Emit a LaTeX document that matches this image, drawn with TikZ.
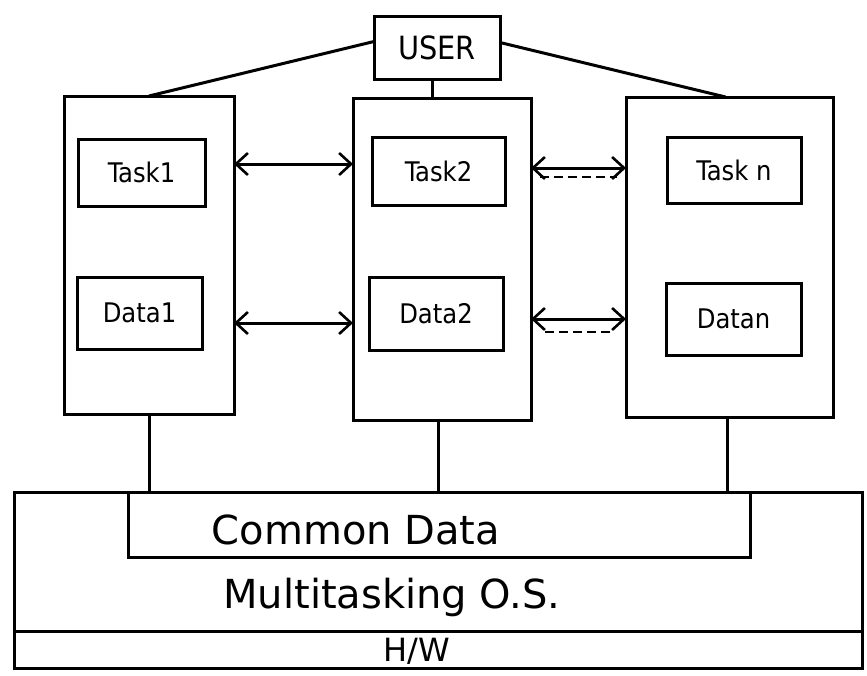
\documentclass[tikz,border=0pt]{standalone}
\usepackage{fontspec}
\setmainfont{DejaVu Sans}
\newfontfamily\condfont{DejaVu Sans Condensed}
\usetikzlibrary{arrows.meta,calc}
\begin{document}
\begin{tikzpicture}[x=1pt,y=-1pt,
  box/.style={draw, line width=3pt, inner sep=0pt, outer sep=0pt},
  small/.style={font=\condfont\fontsize{27}{30}\selectfont},
  conn/.style={line width=3pt},
  dbl/.style={line width=3pt, {Straight Barb[length=12pt,width=22pt,line width=2.6pt]}-{Straight Barb[length=12pt,width=22pt,line width=2.6pt]}},
  dots/.style={line width=2.4pt, dash pattern=on 9pt off 5pt}
]
\useasboundingbox (0,0) rectangle (867,675);

% user
\node[box, minimum width=126pt, minimum height=63pt, font=\condfont\fontsize{32}{36}\selectfont] (user) at (437,47.5) {USER};

% process boxes
\node[box, minimum width=170pt, minimum height=318pt] (p1) at (149,255) {};
\node[box, minimum width=178pt, minimum height=322pt] (p2) at (442,259) {};
\node[box, minimum width=207pt, minimum height=320pt] (p3) at (729.5,257) {};

% task and data boxes
\node[box, small, minimum width=127pt, minimum height=67pt] (t1) at (141.5,172.5) {Task1};
\node[box, small, minimum width=125pt, minimum height=72pt] (d1) at (139.5,313) {Data1};
\node[box, small, minimum width=133pt, minimum height=68pt] (t2) at (438.5,171) {Task2};
\node[box, small, minimum width=134pt, minimum height=73pt] (d2) at (436,313.5) {Data2};
\node[box, small, minimum width=134pt, minimum height=66pt] (tn) at (734,170) {Task n};
\node[box, small, minimum width=135pt, minimum height=72pt] (dn) at (733.5,319) {Datan};

% OS and common data
\node[box, minimum width=848pt, minimum height=176pt] (os) at (438,580) {};
\node[box, minimum width=622pt, minimum height=65pt] (cd) at (439,524.5) {};
\node[font=\fontsize{40}{44}\selectfont] (cdtext) at (356,530) {Common Data};
\node[font=\fontsize{40}{44}\selectfont] (ostext) at (392,597) {Multitasking O.S.};
\coordinate (hwl) at (os.west |- 0,631);
\coordinate (hwr) at (os.east |- 0,631);
\draw[conn] (hwl) -- (hwr);
\node[font=\fontsize{32}{36}\selectfont] (hw) at (417,651) {H/W};

% user connectors
\draw[conn] ([yshift=6pt]user.west) -- (p1.north);
\draw[conn] ([yshift=5pt]user.east) -- ($(p3.north)+(-4,0)$);
\draw[conn] ($(user.south)+(-5,0)$) -- ($(user.south |- p2.north)+(-5,0)$);

% process to OS
\draw[conn] (p1.south) -- (p1.south |- os.north);
\draw[conn] ($(p2.south)+(-4,0)$) -- ($(p2.south |- os.north)+(-4,0)$);
\draw[conn] ($(p3.south)+(-2,0)$) -- ($(p3.south |- os.north)+(-2,0)$);

% inter-process arrows
\draw[dbl] (p1.east |- 0,164) -- (p2.west |- 0,164);
\draw[dbl] (p1.east |- 0,323) -- (p2.west |- 0,323);
\draw[dbl] (p2.east |- 0,168) -- (p3.west |- 0,168);
\draw[dbl] (p2.east |- 0,319) -- (p3.west |- 0,319);
\draw[dots] ($(p2.east |- 0,177)+(9,0)$) -- ($(p3.west |- 0,177)+(-9,0)$);
\draw[dots] ($(p2.east |- 0,332)+(14,0)$) -- ($(p3.west |- 0,332)+(-16,0)$);
\end{tikzpicture}
\end{document}
